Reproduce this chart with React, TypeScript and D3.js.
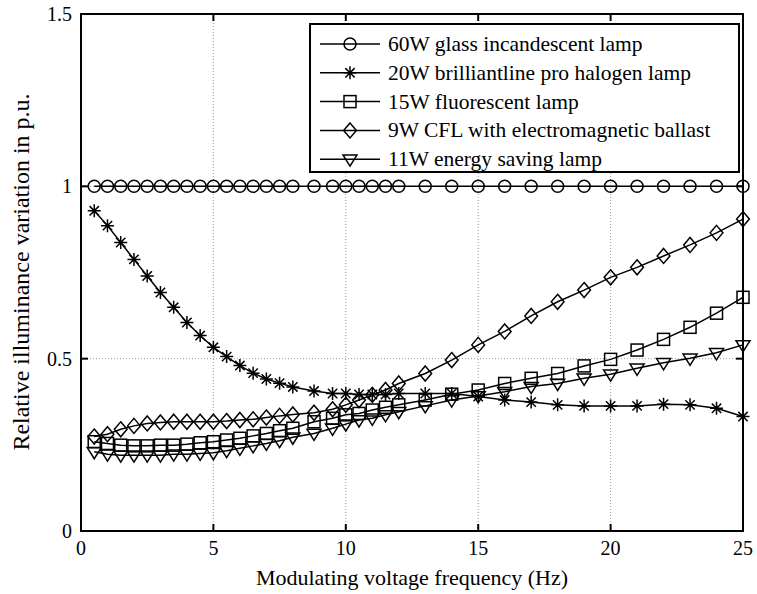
import React, { useEffect, useRef } from "react";
import * as d3 from "d3";

// Modulation frequencies (Hz)
const freqs = [
  0.5, 1.0, 1.5, 2.0, 2.5, 3.0, 3.5, 4.0, 4.5, 5.0, 5.5, 6.0, 6.5, 7.0, 7.5, 8.0, 8.8,
  9.5, 10.0, 10.5, 11.0, 11.5, 12.0, 13, 14, 15, 16, 17, 18, 19, 20, 21, 22, 23, 24, 25,
];

// Relative illuminance variation (p.u.) per lamp
const incandescent60W = freqs.map(() => 1.0);
const halogen20W = [
  0.929, 0.886, 0.837, 0.788, 0.74, 0.692, 0.649, 0.605, 0.567, 0.533, 0.506, 0.48, 0.458,
  0.441, 0.429, 0.418, 0.406, 0.399, 0.399, 0.396, 0.396, 0.396, 0.399, 0.399, 0.399, 0.39,
  0.38, 0.374, 0.366, 0.363, 0.363, 0.363, 0.368, 0.366, 0.356, 0.332,
];
const fluorescent15W = [
  0.259, 0.254, 0.249, 0.247, 0.247, 0.249, 0.249, 0.252, 0.256, 0.259, 0.264, 0.269, 0.276,
  0.283, 0.291, 0.298, 0.317, 0.327, 0.337, 0.341, 0.351, 0.359, 0.366, 0.38, 0.397, 0.409,
  0.428, 0.443, 0.457, 0.479, 0.498, 0.525, 0.556, 0.591, 0.632, 0.678,
];
const cflMagnetic9W = [
  0.274, 0.281, 0.295, 0.305, 0.312, 0.315, 0.317, 0.317, 0.317, 0.317, 0.319, 0.322, 0.324,
  0.329, 0.334, 0.338, 0.343, 0.353, 0.366, 0.38, 0.395, 0.409, 0.428, 0.457, 0.496, 0.54,
  0.579, 0.624, 0.665, 0.699, 0.736, 0.765, 0.798, 0.83, 0.865, 0.905,
];
const energySaving11W = [
  0.23, 0.223, 0.22, 0.22, 0.22, 0.22, 0.223, 0.223, 0.225, 0.227, 0.233, 0.24, 0.247, 0.254,
  0.262, 0.272, 0.283, 0.298, 0.31, 0.322, 0.327, 0.337, 0.346, 0.363, 0.38, 0.392, 0.404,
  0.419, 0.428, 0.443, 0.455, 0.472, 0.488, 0.501, 0.517, 0.54,
];

const seriesNames = [
  "60W glass incandescent lamp",
  "20W brilliantline pro halogen lamp",
  "15W fluorescent lamp",
  "9W CFL with electromagnetic ballast",
  "11W energy saving lamp",
];
const seriesValues = [incandescent60W, halogen20W, fluorescent15W, cflMagnetic9W, energySaving11W];
const markerKinds = ["circle", "asterisk", "square", "diamond", "triangleDown"];

const xTicks = [0, 5, 10, 15, 20, 25];
const yTicks = [0, 0.5, 1, 1.5];

const W = 757;
const H = 594;
const FONT = "'Liberation Serif', 'Times New Roman', serif";

function drawMarker(g: d3.Selection<SVGGElement, unknown, null, undefined>, kind: string, x: number, y: number) {
  const sw = 1.5;
  if (kind === "circle") {
    g.append("circle").attr("cx", x).attr("cy", y).attr("r", 6).attr("fill", "none").attr("stroke", "#000").attr("stroke-width", sw);
  } else if (kind === "square") {
    g.append("rect").attr("x", x - 6).attr("y", y - 6).attr("width", 12).attr("height", 12).attr("fill", "none").attr("stroke", "#000").attr("stroke-width", sw);
  } else if (kind === "diamond") {
    const r = 7.5;
    g.append("path").attr("d", `M${x},${y - r}L${x + r * 0.85},${y}L${x},${y + r}L${x - r * 0.85},${y}Z`).attr("fill", "none").attr("stroke", "#000").attr("stroke-width", sw);
  } else if (kind === "triangleDown") {
    const r = 7;
    g.append("path").attr("d", `M${x - r},${y - r * 0.6}L${x + r},${y - r * 0.6}L${x},${y + r}Z`).attr("fill", "none").attr("stroke", "#000").attr("stroke-width", sw);
  } else if (kind === "asterisk") {
    const r = 6.5;
    const d = r * 0.72;
    g.append("path")
      .attr("d", `M${x - r},${y}L${x + r},${y}M${x},${y - r}L${x},${y + r}M${x - d},${y - d}L${x + d},${y + d}M${x - d},${y + d}L${x + d},${y - d}`)
      .attr("fill", "none").attr("stroke", "#000").attr("stroke-width", sw);
  }
}

export default function App() {
  const ref = useRef<SVGSVGElement | null>(null);

  useEffect(() => {
    const svg = d3.select(ref.current);
    svg.selectAll("*").remove();

    const left = 81, right = 743, top = 14, bottom = 531;
    const x = d3.scaleLinear().domain([0, 25]).range([left, right]);
    const y = d3.scaleLinear().domain([0, 1.5]).range([bottom, top]);

    svg.append("rect").attr("width", W).attr("height", H).attr("fill", "#fff");

    // dotted grid
    const grid = svg.append("g").attr("stroke", "#999").attr("stroke-width", 1).attr("stroke-dasharray", "1,2");
    xTicks.slice(1, -1).forEach((t) => {
      grid.append("line").attr("x1", x(t)).attr("x2", x(t)).attr("y1", top).attr("y2", bottom);
    });
    yTicks.slice(1, -1).forEach((t) => {
      grid.append("line").attr("x1", left).attr("x2", right).attr("y1", y(t)).attr("y2", y(t));
    });

    // series lines and markers
    const line = d3.line<number>().x((_, i) => x(freqs[i])).y((v) => y(v));
    seriesValues.forEach((vals, s) => {
      svg.append("path").datum(vals).attr("d", line).attr("fill", "none").attr("stroke", "#000").attr("stroke-width", 1.5);
      const mg = svg.append("g");
      vals.forEach((v, i) => drawMarker(mg, markerKinds[s], x(freqs[i]), y(v)));
    });

    // axes box with inward ticks
    const ax = svg.append("g").attr("stroke", "#000").attr("stroke-width", 2);
    ax.append("rect").attr("x", left).attr("y", top).attr("width", right - left).attr("height", bottom - top).attr("fill", "none");
    const tl = 7;
    xTicks.forEach((t) => {
      ax.append("line").attr("x1", x(t)).attr("x2", x(t)).attr("y1", bottom).attr("y2", bottom - tl);
      ax.append("line").attr("x1", x(t)).attr("x2", x(t)).attr("y1", top).attr("y2", top + tl);
    });
    yTicks.forEach((t) => {
      ax.append("line").attr("x1", left).attr("x2", left + tl).attr("y1", y(t)).attr("y2", y(t));
      ax.append("line").attr("x1", right).attr("x2", right - tl).attr("y1", y(t)).attr("y2", y(t));
    });

    // tick labels
    const txt = svg.append("g").attr("font-family", FONT).attr("font-size", 20).attr("fill", "#000");
    xTicks.forEach((t) => {
      txt.append("text").attr("x", x(t)).attr("y", bottom + 24).attr("text-anchor", "middle").text(d3.format("d")(t));
    });
    yTicks.forEach((t) => {
      txt.append("text").attr("x", left - 9).attr("y", y(t) + 7).attr("text-anchor", "end").text(String(t));
    });

    // axis titles
    svg.append("text").attr("x", (left + right) / 2).attr("y", 585).attr("text-anchor", "middle")
      .attr("font-family", FONT).attr("font-size", 22).text("Modulating voltage frequency (Hz)");
    svg.append("text").attr("transform", `translate(29,${272}) rotate(-90)`).attr("text-anchor", "middle")
      .attr("font-family", FONT).attr("font-size", 24).text("Relative illuminance variation in p.u.");

    // legend
    const lg = svg.append("g");
    const lx = 310, ly = 24, lw = 429, lh = 148;
    lg.append("rect").attr("x", lx).attr("y", ly).attr("width", lw).attr("height", lh).attr("fill", "#fff").attr("stroke", "#000").attr("stroke-width", 2);
    seriesNames.forEach((name, i) => {
      const yy = ly + 20 + i * 28.8;
      lg.append("line").attr("x1", lx + 10).attr("x2", lx + 70).attr("y1", yy).attr("y2", yy).attr("stroke", "#000").attr("stroke-width", 1.5);
      drawMarker(lg, markerKinds[i], lx + 40, yy);
      lg.append("text").attr("x", lx + 78).attr("y", yy + 7).attr("font-family", FONT).attr("font-size", 21.5).text(name);
    });
  }, []);

  return <svg ref={ref} width={W} height={H} style={{ display: "block", position: "absolute", left: 0, top: 0 }} />;
}
